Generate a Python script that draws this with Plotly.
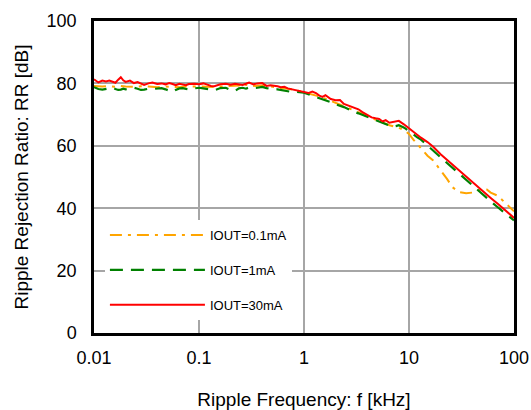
import plotly.graph_objects as go

# Frequencies (kHz) shared by the 1mA and 30mA curves
freq = [0.010, 0.011, 0.012, 0.013, 0.014, 0.015, 0.016, 0.017, 0.018, 0.019,
        0.020, 0.022, 0.024, 0.026, 0.028, 0.030, 0.033, 0.036, 0.040, 0.044,
        0.048, 0.052, 0.056, 0.060, 0.065, 0.070, 0.075, 0.080, 0.090, 0.100,
        0.11, 0.12, 0.13, 0.14, 0.15, 0.16, 0.18, 0.20, 0.22, 0.24,
        0.26, 0.28, 0.30, 0.33, 0.36, 0.40, 0.44, 0.48, 0.52, 0.56,
        0.60, 0.65, 0.70, 0.75, 0.80, 0.90, 1.0, 1.1, 1.2, 1.3,
        1.4, 1.5, 1.6, 1.8, 2.0, 2.2, 2.4, 2.6, 2.8, 3.0,
        3.3, 3.6, 4.0, 4.4, 4.8, 5.2, 5.6, 6.0, 6.5, 7.0,
        7.5, 8.0, 9.0, 10, 11, 12, 13, 15, 17, 20,
        23, 26, 30, 35, 40, 45, 50, 60, 70, 80, 90, 100]

rr_30mA = [81.3, 80.3, 80.9, 80.6, 80.9, 80.5, 80.2, 81.2, 82.0, 81.0,
           80.5, 80.9, 80.1, 80.4, 79.9, 79.5, 80.0, 80.3, 79.8, 80.0,
           79.7, 80.1, 79.8, 79.4, 79.9, 79.6, 79.4, 79.8, 79.9, 79.7,
           80.0, 79.6, 79.2, 79.1, 79.4, 79.7, 79.9, 79.6, 79.9, 79.8,
           79.5, 79.9, 80.3, 79.7, 80.0, 80.1, 79.2, 79.4, 79.3, 79.1,
           78.8, 78.9, 78.4, 78.2, 78.0, 77.6, 77.3, 76.9, 77.4, 76.9,
           76.1, 75.7, 76.2, 75.0, 74.6, 74.7, 73.4, 73.0, 72.5, 72.3,
           71.7, 70.8, 69.8, 69.1, 68.8, 68.6, 67.8, 68.2, 67.4, 67.6,
           67.8, 68.0, 66.8, 65.6, 64.5, 63.4, 62.6, 61.2, 59.7, 57.3,
           55.5, 53.9, 52.0, 50.1, 48.3, 46.8, 45.6, 43.3, 41.4, 39.7, 38.2, 36.9]

rr_1mA = [78.8, 78.2, 78.0, 78.3, 78.5, 78.6, 78.2, 77.9, 78.0, 78.3,
          78.1, 78.4, 78.6, 78.3, 77.9, 78.0, 78.3, 78.2, 78.4, 78.5,
          78.1, 77.6, 77.3, 77.9, 78.4, 78.5, 78.2, 78.0, 78.4, 78.6,
          78.4, 78.3, 78.0, 77.8, 78.2, 78.5, 78.6, 77.9, 77.6, 78.4,
          78.6, 78.3, 78.7, 78.5, 78.6, 78.9, 78.5, 78.3, 78.0, 78.1,
          77.9, 77.8, 77.5, 77.3, 77.4, 77.2, 77.0, 76.5, 76.1, 75.7,
          75.3, 75.0, 74.7, 74.0, 73.3, 72.9, 72.4, 71.9, 71.3, 70.9,
          70.4, 69.9, 69.3, 68.7, 68.1, 67.6, 67.2, 66.9, 66.5, 66.1,
          66.3, 66.6, 65.8, 64.6, 63.6, 62.7, 62.0, 60.2, 58.6, 56.3,
          54.5, 52.9, 51.0, 49.1, 47.3, 45.8, 44.5, 42.2, 40.3, 38.7, 37.3, 36.1]

# 0.1mA curve
freq_01 = [0.010, 0.012, 0.014, 0.016, 0.018, 0.020, 0.024, 0.028, 0.033, 0.040,
           0.048, 0.056, 0.065, 0.075, 0.090, 0.100, 0.12, 0.14, 0.16, 0.20,
           0.24, 0.26, 0.28, 0.33, 0.40, 0.48, 0.56, 0.65, 0.75, 0.90,
           1.0, 1.2, 1.4, 1.6, 2.0, 2.4, 2.8, 3.3, 4.0, 4.8,
           5.6, 6.5, 7.5, 8.0, 9.0, 10, 11, 12, 13, 15,
           17, 20, 23, 26, 30, 35, 40, 45, 50, 55,
           60, 70, 80, 90, 100]

rr_01mA = [79.2, 79.0, 79.1, 78.9, 79.2, 79.0, 78.9, 79.1, 79.0, 78.8,
           79.0, 78.9, 78.8, 79.0, 79.1, 79.0, 78.9, 78.8, 79.0, 79.1,
           79.3, 80.4, 79.5, 79.2, 79.3, 79.0, 78.7, 78.5, 78.1, 77.6,
           77.2, 76.6, 75.8, 75.1, 73.8, 72.7, 71.7, 70.7, 69.6, 68.4,
           67.4, 66.6, 66.0, 65.8, 65.0, 63.8, 62.0, 60.6, 59.2, 56.8,
           55.3, 52.2, 49.4, 46.7, 45.2, 44.8, 45.0, 45.6, 46.2, 46.0,
           45.0, 44.0, 42.2, 40.5, 39.0]

x_ticks = [0.01, 0.1, 1, 10, 100]
x_labels = ["0.01", "0.1", "1", "10", "100"]
y_ticks = [0, 20, 40, 60, 80, 100]

FONT = "Liberation Sans, Arial, sans-serif"

fig = go.Figure()
fig.add_trace(go.Scatter(x=freq_01, y=rr_01mA, mode="lines", name="IOUT=0.1mA",
                         legendgroup="a",
                         line=dict(color="#FFA500", width=2, dash="12px,6px,3px,6px")))
fig.add_trace(go.Scatter(x=freq, y=rr_1mA, mode="lines", name="IOUT=1mA",
                         legendgroup="b",
                         line=dict(color="#008000", width=2.2, dash="13px,8px")))
fig.add_trace(go.Scatter(x=freq, y=rr_30mA, mode="lines", name="IOUT=30mA",
                         legendgroup="c",
                         line=dict(color="#FF0000", width=2)))

fig.update_layout(
    width=531, height=410,
    margin=dict(l=94, r=17, t=21, b=77, autoexpand=False),
    paper_bgcolor="white", plot_bgcolor="white",
    font=dict(family=FONT, color="black", size=18),
    showlegend=True,
    legend=dict(x=0.026, y=0.362, xanchor="left", yanchor="top",
                bgcolor="white", borderwidth=0,
                font=dict(family=FONT, size=13, color="black"),
                itemwidth=95, tracegroupgap=15, traceorder="grouped"),
)
fig.update_xaxes(type="log", range=[-2, 2], tickvals=x_ticks, ticktext=x_labels,
                 automargin=False,
                 showgrid=True, gridcolor="#A6A6A6", gridwidth=2,
                 showline=True, linecolor="black", linewidth=2.5, mirror=True,
                 ticks="", ticklabelstandoff=7,
                 tickfont=dict(family=FONT, size=18),
                 title=dict(text="Ripple Frequency: f [kHz]",
                            font=dict(family=FONT, size=19), standoff=27),
                 zeroline=False)
fig.update_yaxes(range=[0, 100], tickvals=y_ticks,
                 automargin=False,
                 showgrid=True, gridcolor="#A6A6A6", gridwidth=2,
                 showline=True, linecolor="black", linewidth=2.5, mirror=True,
                 ticks="", ticklabelstandoff=11,
                 tickfont=dict(family=FONT, size=18),
                 title=dict(text="Ripple Rejection Ratio: RR [dB]",
                            font=dict(family=FONT, size=19), standoff=13),
                 zeroline=False)

fig.write_html("out.html",
               config={"displayModeBar": False},
               post_script="document.body.style.margin='0px';document.body.style.overflow='hidden';")
